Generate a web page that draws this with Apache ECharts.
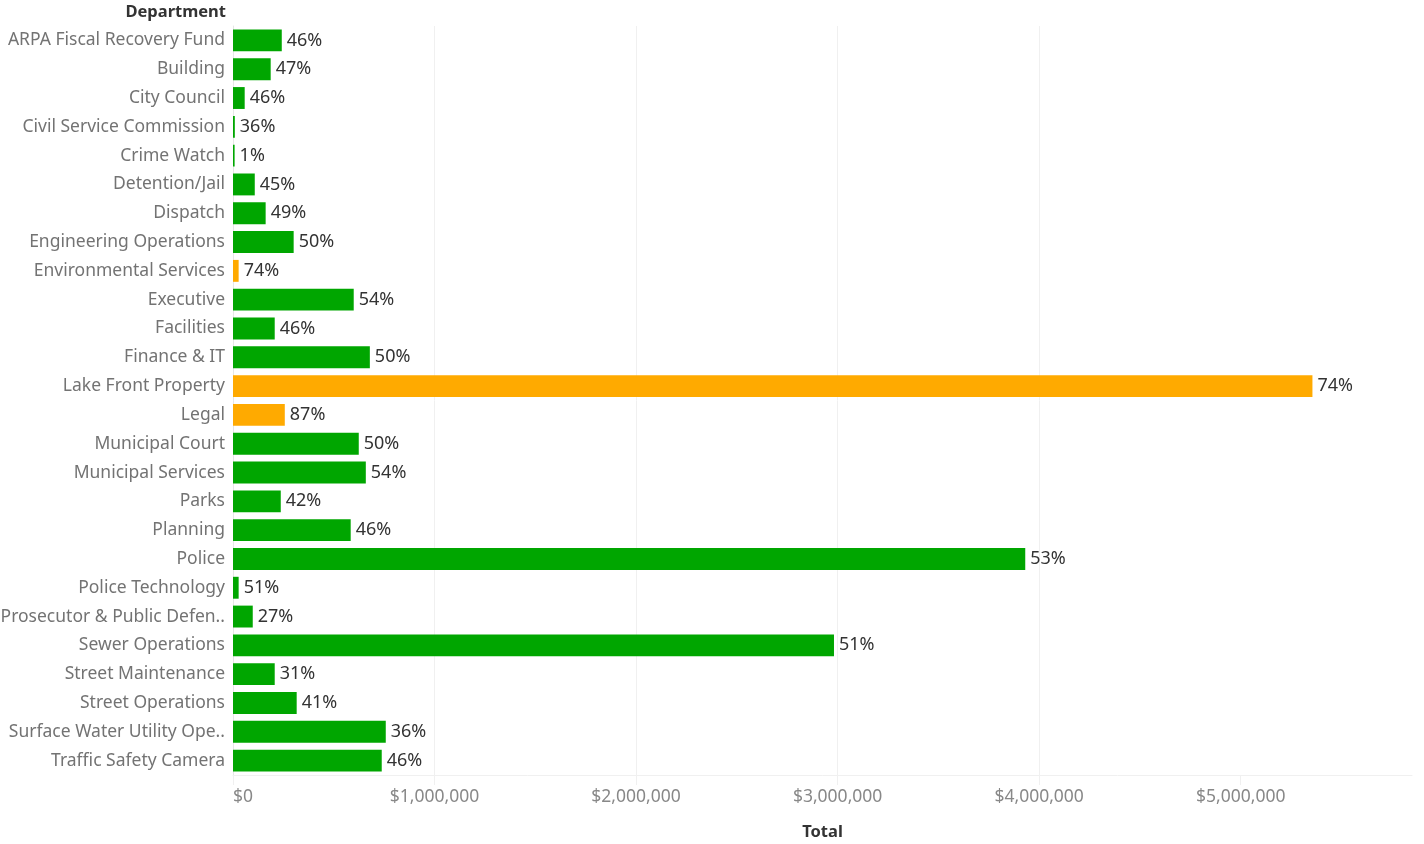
<!DOCTYPE html>
<html>
<head>
<meta charset="utf-8">
<script src="https://cdn.jsdelivr.net/npm/echarts@6/dist/echarts.min.js"></script>
<style>
html,body{margin:0;padding:0;background:#fff;}
#chart{width:1424px;height:844px;}
</style>
</head>
<body>
<div id="chart"></div>
<script>
const departments = [
  'ARPA Fiscal Recovery Fund','Building','City Council','Civil Service Commission','Crime Watch',
  'Detention/Jail','Dispatch','Engineering Operations','Environmental Services','Executive',
  'Facilities','Finance & IT','Lake Front Property','Legal','Municipal Court',
  'Municipal Services','Parks','Planning','Police','Police Technology',
  'Prosecutor & Public Defen..','Sewer Operations','Street Maintenance','Street Operations',
  'Surface Water Utility Ope..','Traffic Safety Camera'
];
const totals = [
  242000, 187000, 58000, 9000, 8000,
  108000, 162000, 301000, 28000, 599000,
  207000, 679000, 5356000, 257000, 624000,
  659000, 237000, 584000, 3931000, 28000,
  98000, 2982000, 207000, 316000,
  758000, 738000
];
const percents = [
  46, 47, 46, 36, 1,
  45, 49, 50, 74, 54,
  46, 50, 74, 87, 50,
  54, 42, 46, 53, 51,
  27, 51, 31, 41,
  36, 46
];
const xTicks = [0, 1000000, 2000000, 3000000, 4000000, 5000000];

const GREEN = '#00a600';
const ORANGE = '#ffaa00';
const FONT = '"Noto Sans", sans-serif';

const chart = echarts.init(document.getElementById('chart'), null, {renderer: 'canvas'});
chart.setOption({
  animation: false,
  grid: {left: 233, right: 12, top: 26, bottom: 69, containLabel: false, outerBoundsMode: 'none'},
  graphic: [{
    type: 'text', right: 1424 - 226, top: 4,
    style: {text: 'Department', font: 'bold 16.5px ' + FONT, fill: '#333', textAlign: 'right'}
  }],
  xAxis: {
    type: 'value', min: 0, max: 5850000, interval: 1000000,
    name: 'Total', nameLocation: 'middle', nameGap: 49,
    nameTextStyle: {fontFamily: FONT, fontSize: 16.5, fontWeight: 'bold', color: '#333'},
    axisLine: {show: true, lineStyle: {color: '#f0f0f0', width: 1}},
    axisTick: {show: true, length: 10, lineStyle: {color: '#f0f0f0'}, customValues: xTicks},
    splitLine: {show: true, showMaxLine: false, lineStyle: {color: '#f0f0f0', width: 1}},
    axisLabel: {
      fontFamily: FONT, fontSize: 17.5, color: '#888', margin: 13,
      customValues: xTicks, alignMinLabel: 'left',
      formatter: v => xTicks.includes(v) ? '$' + v.toLocaleString('en-US') : ''
    }
  },
  yAxis: {
    type: 'category', data: departments, inverse: true,
    axisLine: {show: true, lineStyle: {color: '#e6e6e6'}},
    axisTick: {show: false},
    axisLabel: {fontFamily: FONT, fontSize: 17.5, color: '#737373', margin: 8}
  },
  series: [{
    type: 'bar',
    data: totals.map((v, i) => ({
      value: v,
      itemStyle: {color: percents[i] >= 70 ? ORANGE : GREEN}
    })),
    barCategoryGap: '24%',
    label: {
      show: true, position: 'right', distance: 5,
      fontFamily: FONT, fontSize: 18, color: '#333',
      formatter: p => percents[p.dataIndex] + '%'
    }
  }]
});
</script>
</body>
</html>
